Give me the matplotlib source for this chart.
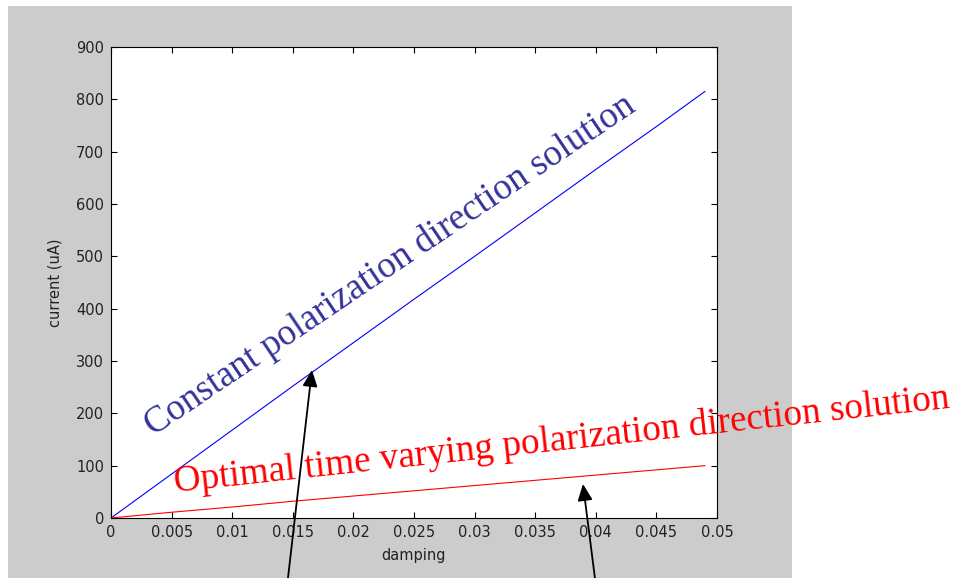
import matplotlib
matplotlib.use("Agg")
import matplotlib.pyplot as plt
from matplotlib.patches import Rectangle

# ---- data ----
damping = [0.0, 0.005, 0.01, 0.015, 0.02, 0.025, 0.03, 0.035, 0.04, 0.045, 0.049]
current_constant = [0, 84, 168, 252, 335, 418, 500, 583, 666, 748, 815]
current_optimal = [0, 11, 21, 32, 42, 52, 62, 72, 82, 92, 100]

x_ticks = [0, 0.005, 0.01, 0.015, 0.02, 0.025, 0.03, 0.035, 0.04, 0.045, 0.05]
x_ticklabels = ["0", "0.005", "0.01", "0.015", "0.02", "0.025", "0.03", "0.035", "0.04", "0.045", "0.05"]
y_ticks = [0, 100, 200, 300, 400, 500, 600, 700, 800, 900]

label_constant = "Constant polarization direction solution"
label_optimal = "Optimal time varying polarization direction solution"

# arrow annotations: (tip x, tip y, tail x, tail y) in data units
arrow_constant = (0.01658, 283, 0.0146, -115)
arrow_optimal = (0.03894, 65, 0.03993, -115)

W, H = 956, 578
fig = plt.figure(figsize=(W / 100, H / 100), dpi=100)
fig.patch.set_facecolor("white")

# gray MATLAB figure background
bg = Rectangle((8 / W, 0), (792 - 8) / W, (H - 6) / H,
               transform=fig.transFigure, facecolor="#cccccc",
               edgecolor="none", zorder=-10)
fig.add_artist(bg)

ax = fig.add_axes([111 / W, 60 / H, (717 - 111) / W, (518 - 47) / H])
ax.set_zorder(1)
ax.set_facecolor("white")
ax.plot(damping, current_constant, color="#0000ff", lw=0.8)
ax.plot(damping, current_optimal, color="#ff0000", lw=0.8)

ax.set_xlim(0, 0.05)
ax.set_ylim(0, 900)
ax.set_xticks(x_ticks)
ax.set_xticklabels(x_ticklabels)
ax.set_yticks(y_ticks)
ax.tick_params(direction="in", length=4.5, width=0.8, top=True, right=True,
               labelsize=10.5, pad=5, colors="black", labelcolor="#222222")
for s in ax.spines.values():
    s.set_linewidth(0.8)
ax.set_xlabel("damping", fontsize=10.5, color="#222222", labelpad=6)
ax.set_ylabel("current (uA)", fontsize=10.5, color="#222222", labelpad=10)

# annotations
for tipx, tipy, tailx, taily in (arrow_constant, arrow_optimal):
    ax.annotate("", xy=(tipx, tipy), xytext=(tailx, taily),
                xycoords="data", textcoords="data", annotation_clip=False,
                arrowprops=dict(arrowstyle="-|>,head_length=1.0,head_width=0.45",
                                color="black", lw=1.3, shrinkA=0, shrinkB=0),
                zorder=5)

fig.text(390 / W, 1 - 265 / H, label_constant, rotation=34,
         rotation_mode="anchor", ha="center", va="center",
         family="Liberation Serif", fontsize=26.5, color="#333399", zorder=10)
fig.text(562 / W, 1 - 440 / H, label_optimal, rotation=6.2,
         rotation_mode="anchor", ha="center", va="center",
         family="Liberation Serif", fontsize=26.8, color="#ff0000", zorder=10)

fig.savefig("out.png", dpi=100)
